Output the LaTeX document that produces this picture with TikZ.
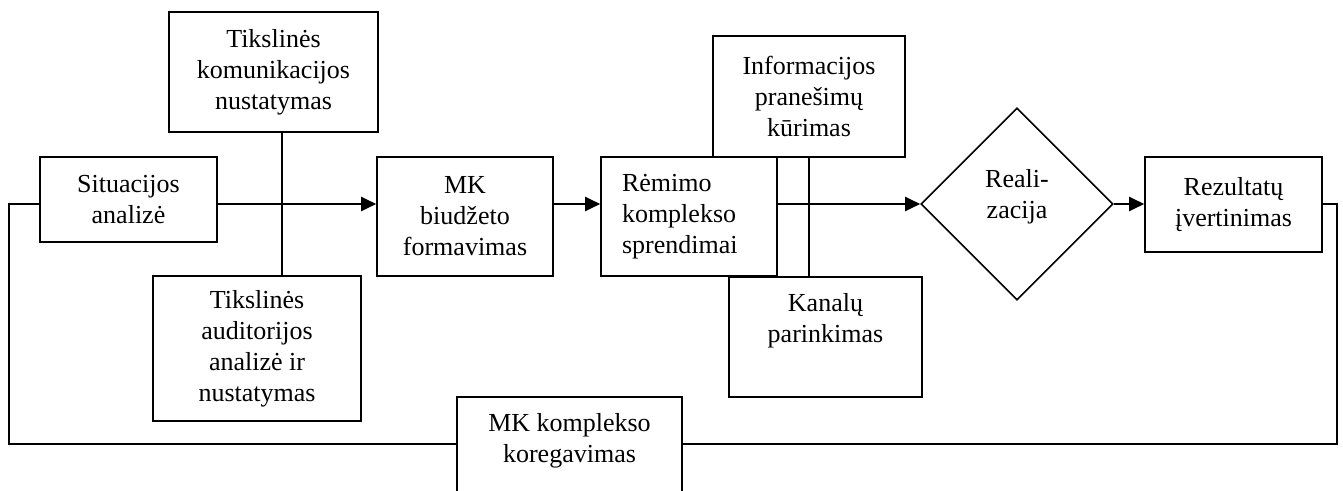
\documentclass[tikz,border=0pt]{standalone}
\usepackage{fontspec}
\setmainfont{Liberation Serif}
\usetikzlibrary{arrows.meta,shapes.geometric}
\tikzset{
  txt/.style={font=\fontsize{13}{15.5}\selectfont},
  box/.style={draw, line width=0.8pt, align=center, inner sep=0pt, txt},
  boxtop/.style={draw, line width=0.8pt, inner xsep=0pt, inner ysep=8.5pt, anchor=north, txt},
  decision/.style={draw, diamond, shape aspect=1, line width=0.8pt, inner sep=0pt, txt},
  flow/.style={line width=1pt, -{Triangle[length=7.5pt,width=7pt]}},
  link/.style={line width=0.8pt},
}
\begin{document}
\begin{tikzpicture}[x=0.5pt,y=-0.5pt]
\useasboundingbox (0,0) rectangle (1343,491);

% process boxes
\node[box, minimum width=88.5pt, minimum height=42.5pt] (sit) at (128.5,199.5) {Situacijos\\analizė};
\node[box, minimum width=104.5pt, minimum height=60pt] (tk) at (273.5,72) {Tikslinės\\komunikacijos\\nustatymas};
\node[box, minimum width=104pt, minimum height=72.5pt] (ta) at (257,348.5) {Tikslinės\\auditorijos\\analizė ir\\nustatymas};
\node[box, minimum width=88pt, minimum height=59.5pt] (mkb) at (465,216.5) {MK\\biudžeto\\formavimas};
\node[box, align=left, text width=67pt, inner xsep=10.5pt, minimum height=59.5pt] (rem) at (689,216.5) {Rėmimo\\komplekso\\sprendimai};
\node[box, minimum width=96pt, minimum height=60.5pt] (inf) at (809,96.5) {Informacijos\\pranešimų\\kūrimas};
\node[boxtop] (kan) at (825.5,276) {\parbox[t][43pt][t]{96.5pt}{\centering Kanalų\\parinkimas}};
\node[decision, minimum width=96pt, minimum height=96pt] (d) at (1017,204)
  {\raisebox{0.5pt}[0pt][0pt]{\parbox{60pt}{\centering Reali-\\zacija}}};
\node[box, minimum width=88.5pt, minimum height=47.5pt] (rez) at (1233.5,204.5) {Rezultatų\\įvertinimas};
\node[boxtop] (mkk) at (569.5,396) {\parbox[t][60pt][t]{112.5pt}{\centering MK komplekso\\koregavimas}};

% helper points
\coordinate (c1) at (282,205);
\coordinate (fbR) at (1337,444);
\coordinate (fbL) at (9,444);

% main flow
\draw[flow] (sit.east |- d.west) -- (mkb.west |- d.west);
\draw[flow] (mkb.east |- d.west) -- (rem.west |- d.west);
\draw[flow] (rem.east |- d.west) -- (d.west);
\draw[flow] (d.east) -- (rez.west |- d.east);

% side links
\draw[link] (tk.south -| c1) -- (ta.north -| c1);
\draw[link] (inf.south) -- (inf.south |- kan.north);

% feedback loop
\draw[link] (rez.east |- d.east) -| (fbR) -- (mkk.east |- fbR);
\draw[link] (mkk.west |- fbL) -- (fbL) |- (sit.west |- d.west);
\end{tikzpicture}
\end{document}
